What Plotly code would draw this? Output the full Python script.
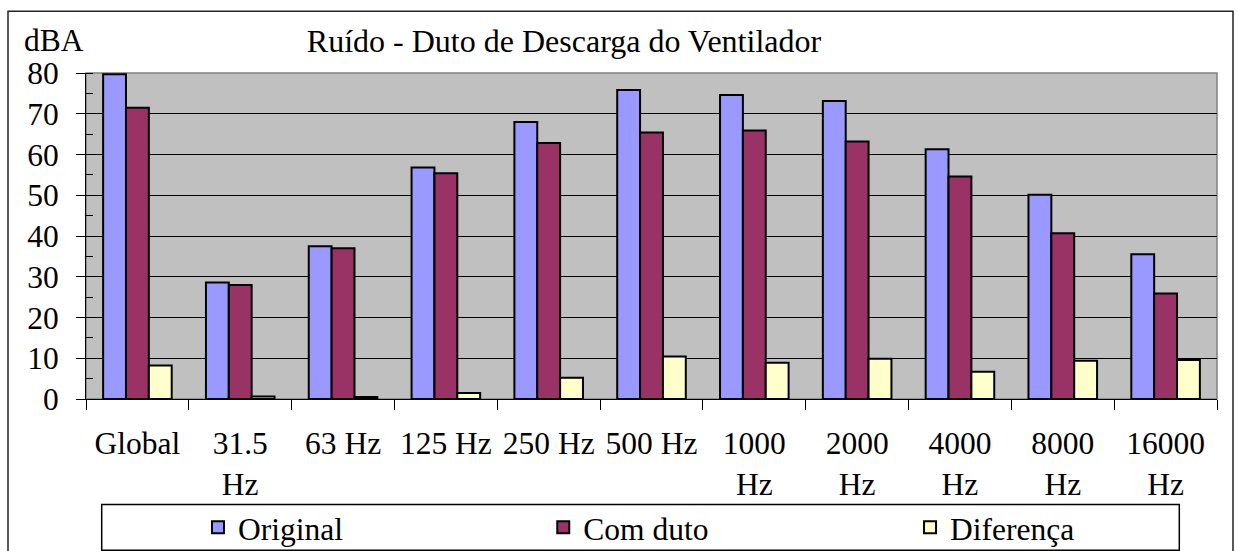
import plotly.graph_objects as go

# Noise levels (dBA) per octave band, fan discharge duct
categories = ["Global", "31.5 Hz", "63 Hz", "125 Hz", "250 Hz", "500 Hz",
              "1000 Hz", "2000 Hz", "4000 Hz", "8000 Hz", "16000 Hz"]
tick_labels = ["Global", "31.5<br>Hz", "63 Hz", "125 Hz", "250 Hz", "500 Hz",
               "1000<br>Hz", "2000<br>Hz", "4000<br>Hz", "8000<br>Hz", "16000<br>Hz"]
original = [79.7, 28.6, 37.5, 56.8, 68.0, 75.8, 74.6, 73.1, 61.3, 50.1, 35.5]
com_duto = [71.5, 28.0, 37.0, 55.4, 62.8, 65.4, 65.9, 63.2, 54.6, 40.7, 25.9]
diferenca = [8.2, 0.6, 0.5, 1.5, 5.2, 10.4, 8.9, 9.9, 6.7, 9.4, 9.6]

# name, values, fill colour, legend id, legend left edge (paper x)
series = [
    ("Original", original, "#9999FF", "legend", 0.099),
    ("Com duto", com_duto, "#993366", "legend2", 0.4043),
    ("Diferença", diferenca, "#FFFFCC", "legend3", 0.7286),
]

FONT = "Liberation Serif, Times New Roman, serif"
FS = 31.5
LEGEND_Y = (398.7 - 527) / 326

fig = go.Figure()
legend_layouts = {}
for name, vals, color, leg, leg_x in series:
    fig.add_trace(go.Bar(
        x=categories, y=vals, name=name, legend=leg,
        marker=dict(color=color, line=dict(color="black", width=2)),
    ))
    legend_layouts[leg] = dict(
        orientation="h",
        x=leg_x, xanchor="left",
        y=LEGEND_Y, yanchor="middle",
        bgcolor="rgba(0,0,0,0)", borderwidth=0,
        font=dict(family=FONT, size=FS, color="black"),
    )

fig.update_layout(
    width=1237, height=551,
    margin=dict(l=86, r=20, t=73, b=152, autoexpand=False),
    paper_bgcolor="white",
    plot_bgcolor="#C0C0C0",
    barmode="group",
    bargap=0.333,
    bargroupgap=0,
    font=dict(family=FONT, size=FS, color="black"),
    title=dict(
        text="Ruído - Duto de Descarga do Ventilador",
        x=564 / 1237, xanchor="center", xref="container",
        y=1 - 41 / 551, yanchor="middle", yref="container",
        font=dict(family=FONT, size=32, color="black"),
    ),
    showlegend=True,
    **legend_layouts,
    xaxis=dict(
        type="category",
        tickmode="array", tickvals=categories, ticktext=tick_labels,
        tickangle=0,
        tickson="boundaries",
        ticks="outside", ticklen=10, tickcolor="black", tickwidth=1,
        ticklabelstandoff=16,
        showline=True, linecolor="black", linewidth=1,
        showgrid=False,
        tickfont=dict(family=FONT, size=FS, color="black"),
    ),
    yaxis=dict(
        range=[0, 80], dtick=10,
        ticks="outside", ticklen=9, tickcolor="black", tickwidth=1,
        ticklabelstandoff=11,
        minor=dict(dtick=5, ticks="inside", ticklen=7, tickcolor="black", showgrid=False),
        showline=True, linecolor="black", linewidth=1,
        showgrid=True, gridcolor="black", gridwidth=1,
        zeroline=False,
        tickfont=dict(family=FONT, size=FS, color="black"),
    ),
    yaxis2=dict(
        overlaying="y", side="left", anchor="x",
        range=[0, 80], tickmode="linear", tick0=0, dtick=5,
        ticks="outside", ticklen=9, tickcolor="black", tickwidth=1,
        showticklabels=False, showgrid=False, zeroline=False, showline=False,
    ),
)

# Axis unit label
fig.add_annotation(
    text="dBA", xref="paper", yref="paper",
    x=(22 - 86) / 1131, y=(398.7 - 40.5) / 326,
    xanchor="left", yanchor="middle", showarrow=False,
    font=dict(family=FONT, size=FS, color="black"),
)

# Gray plot-area frame, legend frame and outer chart frame
fig.add_shape(type="rect", xref="paper", yref="paper", x0=0, x1=1, y0=0, y1=1,
              line=dict(color="#808080", width=1.5), layer="below")
fig.add_shape(type="rect", xref="paper", yref="paper",
              x0=(101.7 - 86) / 1131, x1=(1179.3 - 86) / 1131,
              y0=(398.7 - 550) / 326, y1=(398.7 - 504.3) / 326,
              line=dict(color="black", width=1.5))
fig.add_shape(type="rect", xref="paper", yref="paper",
              x0=(8 - 86) / 1131, x1=(1233 - 86) / 1131,
              y0=(398.7 - 553) / 326, y1=(398.7 - 11) / 326,
              line=dict(color="#222222", width=1.5))

fig.write_html("out.html")
